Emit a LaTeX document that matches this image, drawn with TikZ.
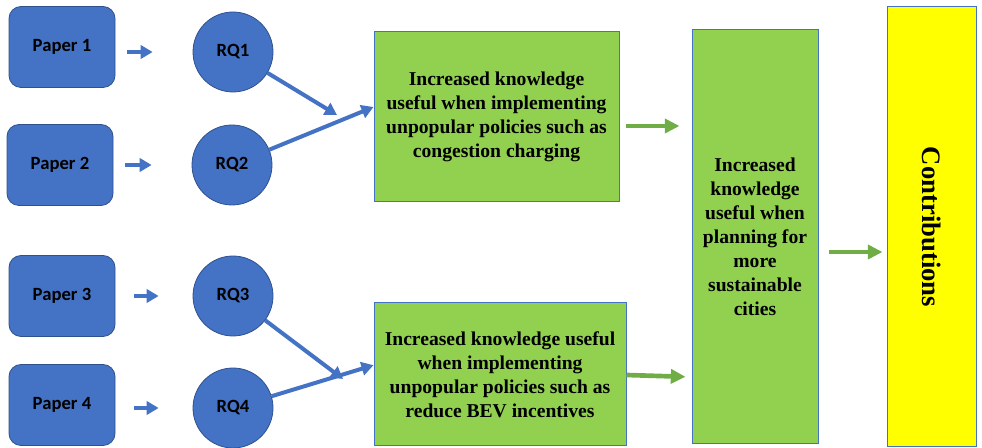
\documentclass[tikz,border=0pt]{standalone}
\usepackage{fontspec}
\setmainfont{Liberation Serif}
\newfontfamily\calibri{Carlito}
\usetikzlibrary{arrows.meta}
\definecolor{papercol}{RGB}{68,114,196}
\definecolor{paperline}{RGB}{47,82,143}
\definecolor{knowcol}{RGB}{146,208,80}
\definecolor{arrowcol}{RGB}{112,173,71}
\definecolor{contribcol}{RGB}{255,255,0}

\begin{document}
\begin{tikzpicture}[x=0.75pt, y=-0.75pt,
    paperbox/.style={rectangle, rounded corners=9pt, fill=papercol, draw=paperline, line width=0.6pt,
        minimum width=79.5pt, minimum height=60.75pt, font=\calibri\fontsize{14}{17}\selectfont\bfseries},
    rqcirc/.style={circle, fill=papercol, draw=paperline, line width=0.6pt,
        minimum size=60pt, inner sep=0pt, font=\calibri\fontsize{14}{17}\selectfont\bfseries},
    knowbox/.style={rectangle, fill=knowcol, draw=papercol, line width=0.75pt, align=center,
        font=\fontsize{14.7}{18}\selectfont\bfseries},
    bluearr/.style={draw=papercol, line width=3pt, -{Triangle[length=9pt, width=10pt]}},
    greenarr/.style={draw=arrowcol, line width=3.5pt, -{Triangle[length=11pt, width=10.5pt]}}]

    \useasboundingbox (0,0) rectangle (982,448);

    % papers and research questions
    \node[paperbox] (p1) at (62,47) {Paper 1};
    \node[paperbox] (p2) at (60,165) {Paper 2};
    \node[paperbox] (p3) at (62,296) {Paper 3};
    \node[paperbox] (p4) at (62,405) {Paper 4};

    \node[rqcirc] (rq1) at (233,52) {RQ1};
    \node[rqcirc] (rq2) at (232,165) {RQ2};
    \node[rqcirc] (rq3) at (233,296) {RQ3};
    \node[rqcirc] (rq4) at (233,408) {RQ4};

    % knowledge boxes
    \node[knowbox, minimum width=183.75pt, minimum height=127.5pt] (g1) at (496.5,117)
        {Increased knowledge\\useful when implementing\\unpopular policies such as\\congestion charging};
    \node[knowbox, minimum width=189pt, minimum height=107.25pt] (g2) at (500,374.5)
        {Increased knowledge useful\\when implementing\\unpopular policies such as\\reduce BEV incentives};
    \node[knowbox, minimum width=94.5pt, minimum height=310.5pt] (big) at (755,237)
        {Increased\\knowledge\\useful when\\planning for\\more\\sustainable\\cities};
    \node[rectangle, fill=contribcol, draw=papercol, line width=0.75pt,
        minimum width=66.75pt, minimum height=330pt] (yel) at (931.5,227) {};
    \node[rotate=-90, font=\fontsize{20}{24}\selectfont\bfseries] (contrib) at (yel) {Contributions};

    \coordinate (m1) at (337,115);
    \coordinate (m2) at (343,379);

    % paper to RQ arrows
    \draw[bluearr, shorten <=9pt, shorten >=30pt] (p1.east |- rq1) -- (rq1);
    \draw[bluearr, shorten <=9pt, shorten >=30pt] (p2.east |- rq2) -- (rq2);
    \draw[bluearr, shorten <=14pt, shorten >=25.5pt] (p3.east |- rq3) -- (rq3);
    \draw[bluearr, shorten <=14pt, shorten >=25.5pt] (p4.east |- rq4) -- (rq4);

    % RQ to knowledge
    \draw[bluearr] (rq1) -- (m1);
    \draw[bluearr] (rq2) -- ([yshift=7.5pt]g1.west);
    \draw[bluearr] (rq3) -- (m2);
    \draw[bluearr] (rq4) -- ([yshift=7pt]g2.west);

    % knowledge to contributions
    \draw[greenarr, shorten <=5pt, shorten >=9pt] (g1.east |- 0,126) -- (big.west |- 0,126);
    \draw[greenarr, shorten >=4.5pt] (g2.east |- 0,375) -- (big.west |- 0,377);
    \draw[greenarr, shorten <=7.5pt, shorten >=3pt] (big.east |- 0,252) -- (yel.west |- 0,252);

\end{tikzpicture}
\end{document}
